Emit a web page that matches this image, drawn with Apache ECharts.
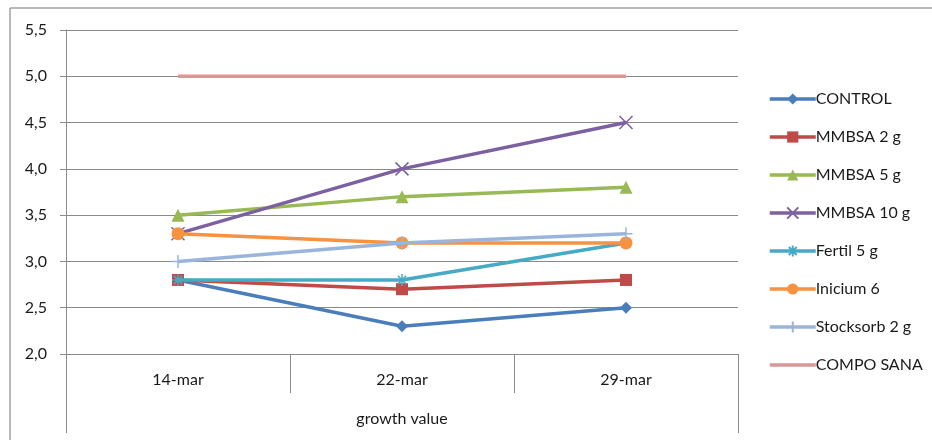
<!DOCTYPE html>
<html>
<head>
<meta charset="utf-8">
<script src="https://cdn.jsdelivr.net/npm/echarts@6/dist/echarts.min.js"></script>
<style>
html,body{margin:0;padding:0;background:#fff;}
#chart{width:932px;height:440px;}
</style>
</head>
<body>
<div id="chart"></div>
<script>
var categories = ['14-mar', '22-mar', '29-mar'];
var groupLabel = ['growth value'];
var seriesNames = ['CONTROL', 'MMBSA 2 g', 'MMBSA 5 g', 'MMBSA 10 g', 'Fertil 5 g', 'Inicium 6', 'Stocksorb 2 g', 'COMPO SANA'];
var control = [2.8, 2.3, 2.5];
var mmbsa2 = [2.8, 2.7, 2.8];
var mmbsa5 = [3.5, 3.7, 3.8];
var mmbsa10 = [3.3, 4.0, 4.5];
var fertil5 = [2.8, 2.8, 3.2];
var inicium6 = [3.3, 3.2, 3.2];
var stocksorb2 = [3.0, 3.2, 3.3];
var compoSana = [5.0, 5.0, 5.0];
var yTicks = [2.0, 2.5, 3.0, 3.5, 4.0, 4.5, 5.0, 5.5];

var values = [control, mmbsa2, mmbsa5, mmbsa10, fertil5, inicium6, stocksorb2, compoSana];
var colors = ['#4A7EBB', '#BE4B48', '#98B954', '#7D60A0', '#46AAC5', '#F69240', '#9BB4DB', '#D99795'];
var symbols = [
  'diamond',
  'rect',
  'triangle',
  'path://M0,0 L10,10 M10,0 L0,10',
  'path://M5,0 L5,10 M0,5 L10,5 M1.5,1.5 L8.5,8.5 M8.5,1.5 L1.5,8.5',
  'circle',
  'path://M5,0 L5,10 M0,5 L10,5',
  'none'
];
var symbolSizes = [12, 12, 13, 13, 12, 13, 13, 0];
var strokeSym = [false, false, false, true, true, false, true, false];

var FONT = 'Lato';
var TXT = '#1a1a1a';
var GRID = '#8a8a8a';

var chart = echarts.init(document.getElementById('chart'), null, {renderer: 'canvas'});

var series = seriesNames.map(function (n, i) {
  return {
    name: n,
    type: 'line',
    xAxisIndex: 0,
    data: values[i],
    symbol: symbols[i],
    symbolSize: symbolSizes[i],
    showSymbol: i !== 7,
    lineStyle: {color: colors[i], width: 3.5},
    itemStyle: {
      color: colors[i],
      borderColor: colors[i],
      borderWidth: strokeSym[i] ? 1.5 : 0
    },
    emphasis: {disabled: true},
    animation: false,
    z: 2 + i
  };
});

var legendData = seriesNames.map(function (n, i) {
  if (i === 7) {
    return {name: n, icon: 'path://M0,0 M46,14 M0,5.2 L46,5.2 L46,8.8 L0,8.8 Z'};
  }
  return {name: n};
});

var option = {
  animation: false,
  grid: {left: 66, top: 30, width: 672, height: 324, containLabel: false},
  legend: {
    orient: 'vertical',
    left: 763,
    top: 86,
    itemWidth: 46,
    itemHeight: 14,
    itemGap: 22,
    data: legendData,
    lineStyle: {width: 'inherit'},
    textStyle: {fontFamily: FONT, fontSize: 16, color: TXT, padding: [0, 0, 0, -5]},
    selectedMode: false
  },
  xAxis: [
    {
      type: 'category',
      data: categories,
      boundaryGap: true,
      position: 'bottom',
      axisLine: {show: true, lineStyle: {color: GRID, width: 1}},
      axisTick: {show: true, length: 39, lineStyle: {color: GRID, width: 1}},
      axisLabel: {fontFamily: FONT, fontSize: 16, color: TXT, margin: 18},
      splitLine: {show: false}
    },
    {
      type: 'category',
      data: groupLabel,
      boundaryGap: true,
      position: 'bottom',
      axisLine: {show: false},
      axisTick: {show: true, length: 79, lineStyle: {color: GRID, width: 1}},
      axisLabel: {fontFamily: FONT, fontSize: 16, color: TXT, margin: 57},
      splitLine: {show: false}
    }
  ],
  yAxis: {
    type: 'value',
    min: 2.0,
    max: 5.5,
    interval: 0.5,
    axisLine: {show: true, lineStyle: {color: GRID, width: 1}},
    axisTick: {show: true, length: 6, lineStyle: {color: GRID}},
    axisLabel: {
      fontFamily: FONT, fontSize: 16, color: TXT, margin: 19,
      formatter: function (v) { return v.toFixed(1).replace('.', ','); }
    },
    splitLine: {show: true, lineStyle: {color: GRID, width: 1}}
  },
  graphic: [
    {type: 'line', shape: {x1: 10, y1: 8, x2: 932, y2: 8}, style: {stroke: '#a0a0a0', lineWidth: 1.5}, silent: true},
    {type: 'line', shape: {x1: 10, y1: 8, x2: 10, y2: 440}, style: {stroke: '#a0a0a0', lineWidth: 1.5}, silent: true}
  ],
  series: series
};

chart.setOption(option);
</script>
</body>
</html>
